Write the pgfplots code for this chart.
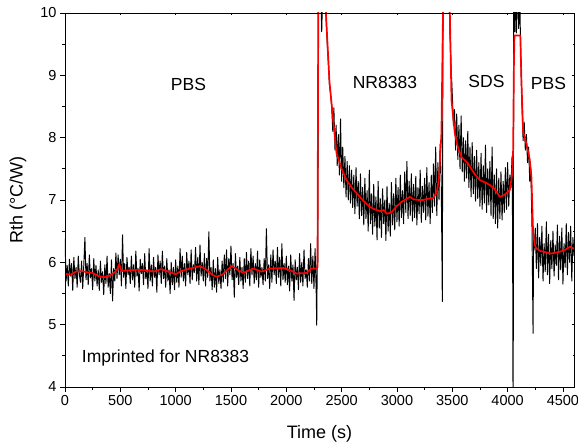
\documentclass[border=0pt]{standalone}
\usepackage{fontspec}
\setmainfont{Liberation Sans}
\usepackage{pgfplots}
\pgfplotsset{compat=1.18}
\usepackage{pgfplotstable}

\pgfplotstableread{
x y
0 6.38
10 5.70
20 5.95
30 5.62
40 6.05
50 5.78
60 5.98
70 5.55
80 6.08
90 5.74
100 5.92
110 5.60
120 6.10
130 5.80
140 5.68
150 6.02
160 5.58
170 5.96
180 6.40
190 5.72
200 5.98
210 5.64
220 6.12
230 5.75
240 5.90
250 5.56
260 6.06
270 5.70
280 5.95
290 5.62
300 5.88
310 5.55
320 6.02
330 5.68
340 5.85
350 5.48
360 5.96
370 5.66
380 6.10
390 5.60
400 5.82
410 5.50
420 6.04
430 5.38
440 5.90
450 5.70
460 6.15
470 5.74
480 6.12
490 5.80
500 6.05
510 5.62
520 6.44
530 5.76
540 5.98
550 5.58
560 6.08
570 5.80
580 5.92
590 5.66
600 6.10
610 5.72
620 5.96
630 5.60
640 6.18
650 5.78
660 5.90
670 5.54
680 6.05
690 5.82
700 5.98
710 5.64
720 6.14
730 5.74
740 5.86
750 5.58
760 6.22
770 5.70
780 5.96
790 5.62
800 6.08
810 5.76
820 5.92
830 5.52
840 6.12
850 5.80
860 6.02
870 5.66
880 6.18
890 5.74
900 5.94
910 5.60
920 6.06
930 5.70
940 5.88
950 5.50
960 6.00
970 5.64
980 5.92
990 5.56
1000 6.04
1010 5.68
1020 5.94
1030 5.60
1040 6.22
1050 5.76
1060 6.10
1070 5.70
1080 5.98
1090 5.62
1100 6.16
1110 5.80
1120 6.02
1130 5.66
1140 6.20
1150 5.72
1160 5.96
1170 5.84
1180 6.24
1190 5.70
1200 6.08
1210 5.64
1220 6.28
1230 5.78
1240 6.00
1250 5.70
1260 6.14
1270 5.62
1280 6.06
1290 5.76
1300 6.49
1310 5.70
1320 5.92
1330 5.56
1340 6.04
1350 5.60
1360 5.90
1370 5.52
1380 6.08
1390 5.66
1400 5.88
1410 5.58
1420 6.02
1430 5.68
1440 6.12
1450 5.74
1460 6.20
1470 5.62
1480 6.06
1490 5.80
1500 6.26
1510 5.72
1520 5.98
1530 5.44
1540 6.14
1550 5.76
1560 5.94
1570 5.64
1580 6.08
1590 5.70
1600 5.92
1610 5.58
1620 6.06
1630 5.68
1640 6.16
1650 5.74
1660 6.02
1670 5.62
1680 6.22
1690 5.80
1700 6.10
1710 5.66
1720 5.98
1730 5.72
1740 6.18
1750 5.60
1760 6.04
1770 5.76
1780 5.92
1790 5.64
1800 6.06
1810 5.70
1820 6.54
1830 5.74
1840 5.96
1850 5.58
1860 6.12
1870 5.68
1880 6.20
1890 5.80
1900 6.02
1910 5.66
1920 6.24
1930 5.76
1940 6.08
1950 5.62
1960 6.30
1970 5.72
1980 5.98
1990 5.68
2000 6.10
2010 5.64
2020 5.94
2030 5.54
2040 6.12
2050 5.70
2060 5.96
2070 5.39
2080 6.04
2090 5.72
2100 5.92
2110 5.56
2120 6.14
2130 5.68
2140 6.00
2150 5.62
2160 6.20
2170 5.74
2180 5.88
2190 5.60
2200 6.06
2210 5.70
2220 6.30
2230 5.66
2240 6.10
2250 5.58
2260 6.22
2270 5.55
2275 4.99
2280 6.10
2285 6.00
2290 10.6
2300 10.9
2310 10.5
2320 9.70
2330 10.4
2340 10.8
2350 10.5
2360 9.90
2370 9.50
2380 9.20
2390 8.85
2400 8.70
2410 8.50
2420 8.10
2430 8.48
2440 7.80
2450 8.20
2460 7.55
2470 8.05
2480 7.40
2490 8.30
2500 7.30
2510 7.85
2520 7.20
2530 7.70
2540 7.05
2550 7.62
2560 7.00
2570 7.55
2580 6.95
2590 7.48
2600 6.88
2610 7.40
2620 6.78
2630 7.52
2640 6.90
2650 7.30
2660 6.70
2670 7.42
2680 6.75
2690 7.20
2700 6.60
2710 7.35
2720 6.70
2730 7.15
2740 6.50
2750 7.48
2760 6.62
2770 7.10
2780 6.45
2790 7.25
2800 6.58
2810 7.05
2820 6.36
2830 7.30
2840 6.55
2850 7.02
2860 6.40
2870 7.18
2880 6.62
2890 7.00
2900 6.35
2910 7.22
2920 6.50
2930 6.95
2940 6.42
2950 7.28
2960 6.60
2970 7.10
2980 6.52
2990 7.35
3000 6.65
3010 7.20
3020 6.58
3030 7.40
3040 6.72
3050 7.15
3060 6.62
3070 7.45
3080 6.80
3090 7.62
3100 6.70
3110 7.30
3120 6.75
3130 7.42
3140 6.66
3150 7.25
3160 6.72
3170 7.38
3180 6.60
3190 7.20
3200 6.78
3210 7.48
3220 6.64
3230 7.22
3240 6.80
3250 7.35
3260 6.68
3270 7.52
3280 6.74
3290 7.28
3300 6.62
3310 7.40
3320 6.80
3330 7.58
3340 6.90
3350 7.85
3360 6.75
3370 7.60
3380 7.00
3390 7.90
3400 7.30
3405 6.40
3410 5.37
3415 9.40
3420 10.6
3430 10.9
3440 10.7
3450 10.8
3460 10.6
3470 10.3
3480 9.60
3490 9.10
3500 8.70
3510 8.20
3520 8.45
3530 7.80
3540 8.38
3550 7.65
3560 8.20
3570 7.50
3580 8.35
3590 7.45
3600 8.00
3610 7.30
3620 7.95
3630 7.35
3640 8.10
3650 7.20
3660 7.85
3670 7.05
3680 7.92
3690 7.10
3700 7.70
3710 6.98
3720 7.80
3730 7.02
3740 7.60
3750 6.90
3760 7.75
3770 6.85
3780 7.55
3790 6.95
3800 7.88
3810 6.80
3820 7.50
3830 6.92
3840 7.62
3850 6.75
3860 7.85
3870 6.70
3880 7.40
3890 6.62
3900 7.50
3910 6.55
3920 7.35
3930 6.70
3940 7.45
3950 6.68
3960 7.30
3970 6.80
3980 7.52
3990 6.85
4000 7.60
4010 6.90
4020 7.40
4030 7.20
4040 7.70
4045 6.50
4050 3.00
4055 10.5
4060 10.4
4065 9.70
4070 10.6
4080 9.68
4090 10.5
4100 9.75
4110 10.3
4115 9.70
4120 9.20
4130 8.50
4140 7.95
4150 8.25
4160 7.80
4170 8.05
4180 7.60
4190 7.85
4200 7.30
4210 7.50
4220 6.60
4230 4.86
4235 6.40
4240 6.20
4250 6.55
4260 5.90
4270 6.62
4280 5.75
4290 6.40
4300 5.95
4310 6.58
4320 5.70
4330 6.30
4340 5.85
4350 6.65
4360 5.80
4370 6.45
4380 5.66
4390 6.35
4400 5.90
4410 6.50
4420 5.78
4430 6.28
4440 5.95
4450 6.60
4460 5.72
4470 6.42
4480 5.88
4490 6.55
4500 5.65
4510 6.30
4520 5.92
4530 6.62
4540 5.80
4550 6.48
4560 6.00
4570 6.58
4580 5.70
4590 6.40
4600 6.10
}\blackdata

\pgfplotstableread{
x y
0 5.82
50 5.80
100 5.85
150 5.86
200 5.84
250 5.83
300 5.78
350 5.76
400 5.78
450 5.84
470 5.88
490 5.97
510 5.86
560 5.87
650 5.88
750 5.87
800 5.85
870 5.89
966 5.83
1000 5.81
1050 5.86
1130 5.90
1220 5.94
1280 5.88
1330 5.80
1370 5.77
1420 5.80
1506 5.94
1560 5.88
1611 5.83
1650 5.86
1701 5.90
1776 5.85
1852 5.90
1972 5.91
2040 5.87
2093 5.82
2183 5.83
2228 5.90
2270 5.90
2282 5.92
2290 10.8
2340 10.9
2358 10.0
2390 8.90
2421 8.33
2454 7.75
2500 7.50
2544 7.32
2600 7.18
2635 7.11
2700 6.98
2755 6.89
2800 6.85
2850 6.82
2880 6.84
2906 6.78
2950 6.80
2997 6.90
3050 6.98
3117 7.05
3150 7.01
3200 7.00
3237 7.00
3280 7.02
3327 7.03
3360 7.12
3380 7.35
3402 8.07
3416 10.0
3425 10.8
3470 10.8
3478 10.0
3493 8.60
3523 8.07
3550 7.85
3583 7.69
3641 7.59
3700 7.42
3749 7.32
3800 7.28
3840 7.24
3880 7.18
3930 7.05
3970 7.08
4020 7.16
4040 7.40
4050 7.80
4057 9.20
4062 9.64
4115 9.64
4125 8.90
4140 8.10
4170 7.90
4200 7.65
4215 7.37
4230 6.50
4245 6.28
4260 6.22
4300 6.18
4350 6.16
4381 6.14
4420 6.15
4472 6.17
4520 6.20
4562 6.25
4600 6.22
}\reddata

\begin{document}
\begin{tikzpicture}
\begin{axis}[
  name=main,
  scale only axis,
  width=509pt, height=374pt,
  xmin=0, xmax=4600, ymin=4, ymax=10,
  xtick={0,500,...,4500}, ytick={4,5,...,10},
  minor xtick={250,750,...,4250},
  minor ytick={4.5,5.5,...,9.5},
  tick align=outside, xtick pos=bottom, ytick pos=left,
  major tick length=5pt, minor tick length=3pt,
  tick style={black, line width=0.8pt},
  axis line style={line width=0.8pt},
  ticklabel style={font=\fontsize{14.5}{17}\selectfont},
  /pgf/number format/assume math mode=true,
  /pgf/number format/1000 sep={},
  xlabel={Time (s)}, ylabel={Rth (°C/W)},
  label style={font=\fontsize{18}{21}\selectfont},
  xlabel style={at={(axis description cs:0.5,-0.1257)}, anchor=center},
  ylabel style={at={(axis description cs:-0.0923,0.5)}, anchor=center},
]
\addplot[black, line width=0.95pt, line join=round] table[x=x,y=y] {\blackdata};
\addplot[red, line width=1.7pt, line join=round] table[x=x,y=y] {\reddata};
\node[font=\fontsize{17.5}{20}\selectfont, anchor=base, inner sep=0pt] at (axis cs:1116,8.753) {PBS};
\node[font=\fontsize{17.5}{20}\selectfont, anchor=base, inner sep=0pt] at (axis cs:2891,8.79) {NR8383};
\node[font=\fontsize{17.5}{20}\selectfont, anchor=base, inner sep=0pt] at (axis cs:3809,8.80) {SDS};
\node[font=\fontsize{17.5}{20}\selectfont, anchor=base, inner sep=0pt] at (axis cs:4369,8.775) {PBS};
\node[font=\fontsize{17.5}{20}\selectfont, anchor=base west, inner sep=0pt] at (axis cs:151,4.40) {Imprinted for NR8383};
\end{axis}
\begin{axis}[
  scale only axis,
  width=509pt, height=374pt,
  xmin=0, xmax=4600, ymin=4, ymax=10,
  xtick={0,500,...,4500}, ytick={4,5,...,10},
  minor xtick={250,750,...,4250},
  minor ytick={4.5,5.5,...,9.5},
  tick align=inside, xtick pos=top, ytick pos=right,
  xticklabels={}, yticklabels={},
  major tick length=2.5pt, minor tick length=1.5pt,
  tick style={black, line width=0.8pt},
  axis line style={line width=0.8pt},
]
\end{axis}
\pgfresetboundingbox
\path ([shift={(-65pt,-59pt)}]main.south west) rectangle ([shift={(4pt,13pt)}]main.north east);
\end{tikzpicture}
\end{document}
